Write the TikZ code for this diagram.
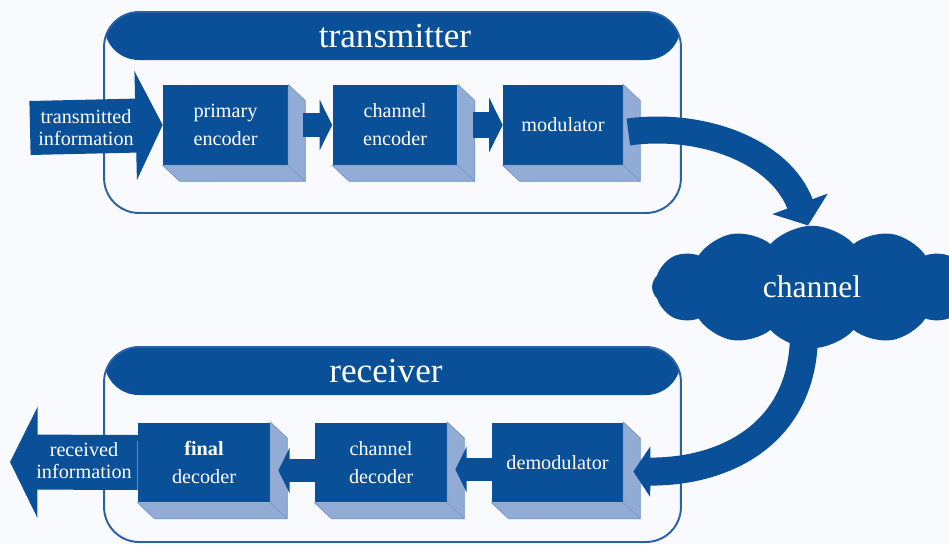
\documentclass[tikz,border=0pt]{standalone}
\usepackage{fontspec}
\setmainfont{Liberation Serif}
\usepackage{tikz}
\usetikzlibrary{arrows.meta,shapes.symbols}

\definecolor{navy}{RGB}{9,80,152}
\definecolor{pale}{RGB}{146,172,214}
\definecolor{rim}{RGB}{44,96,166}
\definecolor{paper}{RGB}{249,250,253}

\tikzset{
  unit/.style={fill=navy,text=white,align=center,inner sep=1.5pt,
    minimum width=2.5cm,minimum height=1.6cm,font=\fontsize{11.5}{16}\selectfont},
  panel/.style={draw=rim,line width=1.1pt,rounded corners=0.7cm,
    minimum width=11.54cm,
    path picture={\fill[navy] (path picture bounding box.north west)
      rectangle ([yshift=-0.96cm]path picture bounding box.north east);}},
  title/.style={text=white,font=\fontsize{20}{22}\selectfont},
  flow/.style={navy,line width=#1,-{Triangle[width=0pt 2,length=0pt 0.5]}},
  bend/.style={navy,line width=#1},
  tag/.style={text=white,align=center,inner sep=0pt,font=\fontsize{11.5}{12.5}\selectfont}
}

\begin{document}
\begin{tikzpicture}[x=0.02cm,y=-0.02cm]
  \fill[paper] (0,0) rectangle (949,544);
  \useasboundingbox (0,0) rectangle (949,544);
  \clip (0,0) rectangle (949,544);

  % the two frames
  \node[panel,minimum height=4.02cm] (tx) at (392.5,112.5) {};
  \node[panel,minimum height=3.9cm] (rx) at (392.5,444.5) {};
  \node[title] (txt) at (395,36) {transmitter};
  \node[title] (rxt) at (386,371) {receiver};

  % blocks
  \node[unit] (pe) at (225.5,125) {primary\\encoder};
  \node[unit] (ce) at (395,125) {channel\\encoder};
  \node[unit,minimum width=2.4cm] (mod) at (563,125) {modulator};
  \node[unit,minimum width=2.64cm] (fd) at (204,462.5) {\textbf{final}\\decoder};
  \node[unit,minimum width=2.64cm] (cd) at (381,462.5) {channel\\decoder};
  \node[unit,minimum width=2.62cm] (dm) at (557.5,462.5) {demodulator};
  \foreach \b in {pe,ce,mod,fd,cd,dm} {
    \filldraw[fill=pale,draw=pale!75!navy,line width=0.4pt]
      (\b.north east) -- ([shift={(17,16)}]\b.north east)
      -- ([shift={(17,16)}]\b.south east) -- ([shift={(17,16)}]\b.south west)
      -- (\b.south west) -- (\b.south east) -- cycle;
    \draw[pale!75!navy,line width=0.4pt] (\b.south east) -- ++(17,16);
  }

  % channel
  \node[cloud,cloud puffs=12,cloud puff arc=95,cloud ignores aspect,
    minimum width=6.4cm,minimum height=2.45cm,fill=navy,text=white,
    font=\fontsize{18}{20}\selectfont] (ch) at (812,287) {channel};

  % data flow
  \coordinate (src) at (30,128);
  \coordinate (snk) at (10,462);
  \draw[flow=1.08cm] (src) -- (pe.west);
  \draw[flow=0.5cm] ([xshift=0.3cm]pe.east) -- (ce.west);
  \draw[flow=0.54cm] ([xshift=0.3cm]ce.east) -- (mod.west);
  \draw[bend=0.54cm,-{Triangle[width=1.16cm,length=0.46cm]}]
    ([shift={(5,7)}]mod.east) .. controls (700,122) and (780,150) .. ([xshift=-0.08cm]ch.north);
  \draw[bend=0.56cm,-{Triangle[width=1.0cm,length=0.34cm]}]
    ([shift={(-8,-15)}]ch.south) .. controls (804,430) and (730,472) .. ([shift={(10,9)}]dm.east);
  \draw[flow=0.45cm] ([shift={(0,7)}]dm.west) -- ([shift={(8,7)}]cd.east);
  \draw[flow=0.45cm] ([shift={(0,8)}]cd.west) -- ([shift={(8,8)}]fd.east);
  \draw[flow=1.1cm] (fd.west) -- (snk);
  \node[tag] (in) at (86,128) {transmitted\\information};
  \node[tag] (out) at (84,461) {received\\information};
\end{tikzpicture}
\end{document}
